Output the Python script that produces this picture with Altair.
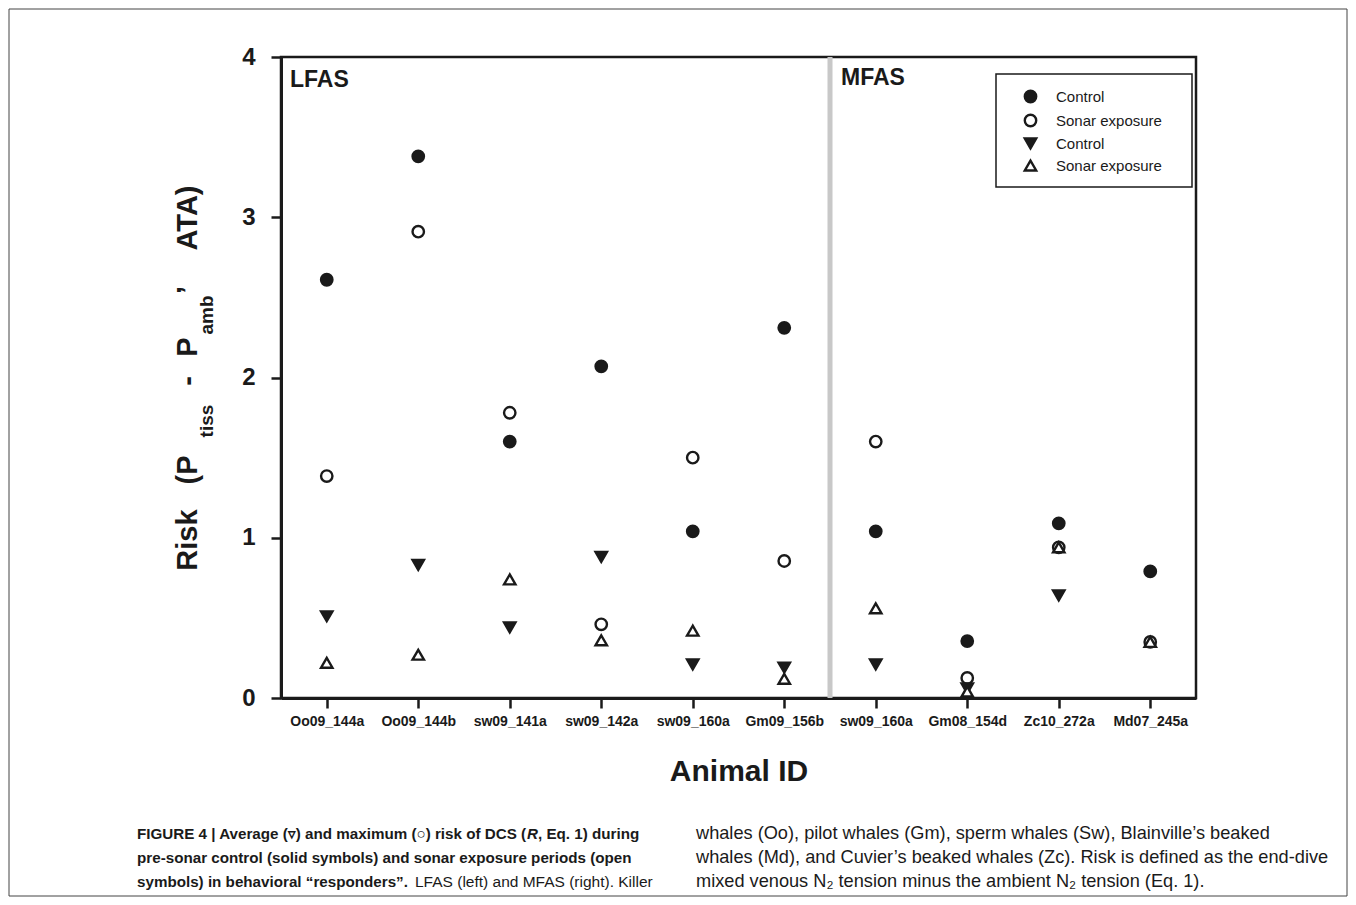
import altair as alt
import pandas as pd

# ---------------- data ----------------
animals = ["Oo09_144a", "Oo09_144b", "sw09_141a", "sw09_142a", "sw09_160a",
           "Gm09_156b", "sw09_160a", "Gm08_154d", "Zc10_272a", "Md07_245a"]
max_control = [2.61, 3.38, 1.60, 2.07, 1.04, 2.31, 1.04, 0.355, 1.09, 0.79]
max_sonar = [1.385, 2.91, 1.78, 0.46, 1.50, 0.855, 1.60, 0.125, 0.94, 0.35]
avg_control = [0.51, 0.83, 0.44, 0.88, 0.21, 0.19, 0.21, 0.06, 0.64, None]
avg_sonar = [0.22, 0.27, 0.74, 0.36, 0.42, 0.12, 0.56, 0.04, 0.94, 0.35]
series_names = ["Control (maximum)", "Sonar exposure (maximum)",
                "Control (average)", "Sonar exposure (average)"]
series_shapes = ["circle", "circle", "triangle-down", "triangle-up"]
series_fills = ["#1a1a1a", "white", "#1a1a1a", "white"]
y_ticks = [0, 1, 2, 3, 4]

rows = []
for name, vals in zip(series_names, [max_control, max_sonar, avg_control, avg_sonar]):
    for i, v in enumerate(vals):
        if v is not None:
            rows.append({"idx": i, "risk": v, "series": name})
df = pd.DataFrame(rows)

# ---------------- layout ----------------
W, H = 915, 641
PAD = {"left": 273, "top": 49, "right": 152, "bottom": 199}
INK = "#1a1a1a"
FONT = "Liberation Sans"
one = pd.DataFrame({"a": [0]})

label_expr = "[" + ",".join("'%s'" % a for a in animals) + "][datum.value]"

x_scale = alt.Scale(domain=[-0.5, 9.5], nice=False, zero=False)
y_scale = alt.Scale(domain=[0, 4], nice=False, zero=True)

legend = alt.Legend(orient="none", legendX=742, legendY=32, title=None,
                    labelExpr="split(datum.label, ' (')[0]",
                    labelFont=FONT, labelFontSize=15, labelColor=INK,
                    symbolSize=130, symbolStrokeWidth=2.4,
                    rowPadding=1, labelOffset=18, padding=0)

points = alt.Chart(df).mark_point(size=130, strokeWidth=2.4, opacity=1).encode(
    x=alt.X("idx:Q", scale=x_scale, title="Animal ID",
            axis=alt.Axis(values=list(range(10)), labelExpr=label_expr,
                          grid=False)),
    y=alt.Y("risk:Q", scale=y_scale, title=None,
            axis=alt.Axis(values=y_ticks, format="d", grid=False)),
    shape=alt.Shape("series:N", scale=alt.Scale(domain=series_names, range=series_shapes),
                    legend=legend),
    fill=alt.Fill("series:N", scale=alt.Scale(domain=series_names, range=series_fills),
                  legend=legend),
    stroke=alt.Stroke("series:N", scale=alt.Scale(domain=series_names, range=[INK] * 4),
                      legend=legend),
)

separator = alt.Chart(one).mark_rule(color="#c8c8c8", strokeWidth=5).encode(
    x=alt.datum(5.5), y=alt.value(0), y2=alt.value(H))

legend_box = alt.Chart(one).mark_rect(fill="white", stroke=INK, strokeWidth=1.5).encode(
    x=alt.value(715), x2=alt.value(911), y=alt.value(17), y2=alt.value(130))

outer = alt.Chart(one).mark_rect(fill=None, stroke="#444444", strokeWidth=1).encode(
    x=alt.value(-272), x2=alt.value(1066), y=alt.value(-48), y2=alt.value(839))


def txt(s, x, y, size, weight="normal", style="normal", font=FONT, angle=0,
        align="left", baseline="alphabetic"):
    return alt.Chart(pd.DataFrame({"t": [s]})).mark_text(
        font=font, fontSize=size, fontWeight=weight, fontStyle=style, color=INK,
        angle=angle, align=align, baseline=baseline).encode(
        x=alt.value(x), y=alt.value(y), text="t:N")


BS = 15.2   # bold caption size
RS = 18.2   # regular caption size (right column)
YT = 29     # y title size
YS = 19     # y title subscript size
annotations = [
    txt("LFAS", 9, 23, 23, "bold", baseline="middle"),
    txt("MFAS", 560, 21, 23, "bold", baseline="middle"),
    # y-axis title with subscripts
    txt("Risk", -84, 483, YT, "bold", angle=270, align="center"),
    txt("(P", -84, 413, YT, "bold", angle=270, align="center"),
    txt("tiss", -68, 364, YS, "bold", angle=270, align="center"),
    txt("-", -84, 324, YT, "bold", angle=270, align="center"),
    txt("P", -84, 290, YT, "bold", angle=270, align="center"),
    txt("amb", -68, 258, YS, "bold", angle=270, align="center"),
    txt("’", -84, 233, YT, "bold", angle=270, align="center"),
    txt("ATA)", -84, 161, YT, "bold", angle=270, align="center"),
    # caption
    txt("FIGURE 4 | Average (▿) and maximum (○) risk of DCS (", -144, 782, BS, "bold"),
    txt("R", 246, 782, BS, "bold", "italic"),
    txt(", Eq. 1) during", 257, 782, BS, "bold"),
    txt("pre-sonar control (solid symbols) and sonar exposure periods (open", -144, 806, BS, "bold"),
    txt("symbols) in behavioral “responders”.", -144, 830, BS, "bold"),
    txt("LFAS (left) and MFAS (right). Killer", 134, 830, 15.5),
    txt("whales (Oo), pilot whales (Gm), sperm whales (Sw), Blainville’s beaked", 415, 782, RS),
    txt("whales (Md), and Cuvier’s beaked whales (Zc). Risk is defined as the end-dive", 415, 806, RS),
    txt("mixed venous N₂ tension minus the ambient N₂ tension (Eq. 1).", 415, 830, RS),
]

chart = alt.layer(outer, separator, legend_box, points, *annotations).properties(
    width=W, height=H, padding=PAD,
    autosize=alt.AutoSizeParams(type="none"),
    background="white",
).configure_view(
    stroke=INK, strokeWidth=2.5
).configure_axis(
    domainColor=INK, domainWidth=3, tickColor=INK, tickWidth=2.5, tickSize=10,
    labelFont=FONT, labelFontWeight="bold", labelColor=INK,
    titleFont=FONT, titleFontWeight="bold", titleColor=INK,
).configure_axisX(
    labelFontSize=14, labelPadding=6, titleFontSize=30, titlePadding=28,
).configure_axisY(
    labelFontSize=24, labelPadding=16,
)

chart.save("out.html", embed_options={"renderer": "svg", "actions": False})
